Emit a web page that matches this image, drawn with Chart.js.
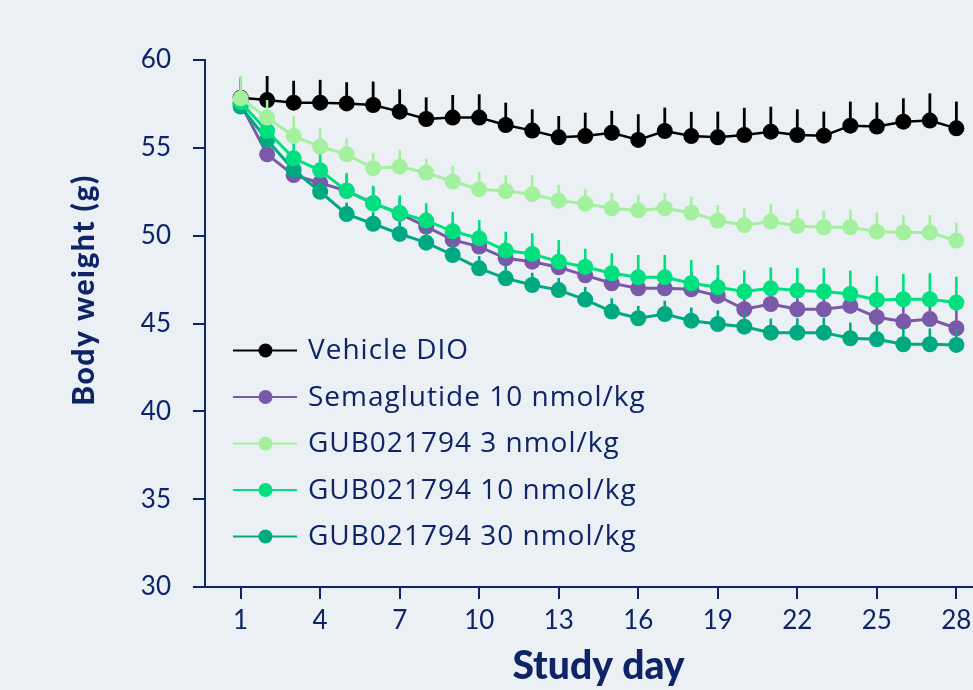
<!DOCTYPE html>
<html><head><meta charset="utf-8">
<script src="https://cdn.jsdelivr.net/npm/chart.js@4.4.1/dist/chart.umd.min.js"></script>
<style>
html,body{margin:0;padding:0;background:#ebf0f5;overflow:hidden;}
#wrap{width:973px;height:690px;overflow:hidden;position:relative;background:#ebf0f5;}
canvas{display:block;}
</style></head><body>
<div id="wrap"><canvas id="c" width="1000" height="690"></canvas></div>
<script>
const days = [1,2,3,4,5,6,7,8,9,10,11,12,13,14,15,16,17,18,19,20,21,22,23,24,25,26,27,28];
const xTicks = [1,4,7,10,13,16,19,22,25,28];
const yTicks = [30,35,40,45,50,55,60];
const seriesNames = ['Vehicle DIO','Semaglutide 10 nmol/kg','GUB021794 3 nmol/kg','GUB021794 10 nmol/kg','GUB021794 30 nmol/kg'];

const vehicle = [57.85,57.72,57.57,57.57,57.53,57.44,57.06,56.64,56.72,56.72,56.30,55.98,55.60,55.67,55.86,55.45,55.96,55.67,55.60,55.73,55.92,55.73,55.69,56.26,56.21,56.49,56.55,56.11];
const vehicleSem = [1.1,1.37,1.25,1.30,1.20,1.33,1.27,1.23,1.29,1.33,1.27,1.21,1.21,1.33,1.25,1.46,1.33,1.38,1.46,1.55,1.42,1.46,1.37,1.37,1.37,1.33,1.55,1.52];

const sema = [57.5,54.63,53.45,53.0,52.55,51.85,51.25,50.52,49.76,49.38,48.71,48.52,48.2,47.74,47.29,47.0,47.0,46.95,46.57,45.81,46.11,45.81,45.81,46.0,45.36,45.11,45.25,44.73];
const semaSem = [0.5,0.8,0.8,0.9,0.9,0.9,0.9,0.9,1.0,1.0,1.0,1.0,1.0,1.0,1.0,1.0,1.0,1.0,1.05,1.05,1.05,1.1,1.1,1.1,1.1,1.1,1.1,1.1];

const gub3 = [57.82,56.72,55.67,55.07,54.63,53.84,53.93,53.59,53.08,52.64,52.54,52.36,51.99,51.82,51.56,51.44,51.56,51.31,50.86,50.6,50.80,50.55,50.48,50.48,50.23,50.18,50.18,49.72];
const gub3Sem = [1.27,1.0,1.14,1.04,0.91,0.85,0.95,0.8,0.89,1.0,0.91,1.1,0.89,0.85,0.85,0.9,0.85,0.91,0.89,0.95,1.0,0.95,0.93,1.0,1.08,1.0,1.0,1.02];

const gub10 = [57.6,55.96,54.4,53.72,52.55,51.82,51.29,50.86,50.25,49.85,49.15,48.96,48.52,48.22,47.86,47.63,47.63,47.29,47.06,46.82,47.0,46.88,46.82,46.68,46.34,46.38,46.38,46.19];
const gub10Sem = [0.8,1.0,1.14,0.95,1.02,1.02,1.0,0.99,1.1,1.04,1.08,1.18,1.23,1.04,1.14,1.27,1.27,1.33,1.27,1.2,1.2,1.27,1.33,1.33,1.37,1.44,1.48,1.48];

const gub30 = [57.35,55.45,53.74,52.5,51.23,50.68,50.1,49.6,48.9,48.14,47.57,47.19,46.9,46.36,45.68,45.3,45.54,45.16,44.97,44.82,44.48,44.48,44.48,44.16,44.1,43.82,43.82,43.78];
const gub30Sem = [0.5,0.6,0.6,0.6,0.65,0.65,0.7,0.7,0.7,0.7,0.7,0.7,0.7,0.72,0.76,0.7,0.76,0.75,0.78,0.8,0.8,0.82,0.85,0.89,0.91,0.9,0.9,0.9];

const NAVY = '#0e2466';
const colors = ['#000000','#7a5aa8','#a3f09e','#00e07f','#00aa80'];
const seriesValues = [vehicle, sema, gub3, gub10, gub30];
const seriesSem = [vehicleSem, semaSem, gub3Sem, gub10Sem, gub30Sem];
const drawOrder = [5,4,1,2,3];
const lineWidths = [2.5,3,3,3,3];

const datasets = seriesValues.map((vals, i) => ({
  label: seriesNames[i],
  data: days.map((d, k) => ({x: d, y: vals[k]})),
  borderColor: colors[i],
  backgroundColor: colors[i],
  pointBackgroundColor: colors[i],
  pointBorderWidth: 0,
  pointRadius: 8,
  borderWidth: lineWidths[i],
  order: drawOrder[i],
  tension: 0,
  clip: false
}));

const errorBars = {
  id: 'errorBars',
  beforeDatasetDraw(chart, args) {
    const ctx = chart.ctx;
    const sem = seriesSem[args.index];
    const vals = seriesValues[args.index];
    const ys = chart.scales.y;
    ctx.save();
    ctx.strokeStyle = colors[args.index];
    ctx.lineWidth = args.index === 0 ? 2.8 : 2.6;
    args.meta.data.forEach((pt, k) => {
      const top = ys.getPixelForValue(vals[k] + sem[k]);
      ctx.beginPath();
      ctx.moveTo(pt.x, pt.y);
      ctx.lineTo(pt.x, top);
      ctx.stroke();
    });
    ctx.restore();
  }
};

const extras = {
  id: 'extras',
  afterDraw(chart) {
    const ctx = chart.ctx;
    const ca = chart.chartArea;
    ctx.save();
    ctx.setTransform(1, 0, 0, 1, 0, 0);
    // legend
    const y0 = ca.top + 290.5, dy = 46.5;
    seriesNames.forEach((name, i) => {
      const y = y0 + i * dy;
      ctx.strokeStyle = colors[i];
      ctx.lineWidth = 2;
      ctx.beginPath();
      ctx.moveTo(ca.left + 28, y);
      ctx.lineTo(ca.left + 92, y);
      ctx.stroke();
      ctx.fillStyle = colors[i];
      ctx.beginPath();
      ctx.arc(ca.left + 60.5, y, 7, 0, Math.PI * 2);
      ctx.fill();
      ctx.fillStyle = NAVY;
      ctx.font = '28px "Open Sans"';
      ctx.letterSpacing = '1px';
      ctx.textBaseline = 'middle';
      ctx.textAlign = 'left';
      ctx.fillText(name, ca.left + 103, y + 1);
    });
    // y title
    ctx.letterSpacing = '1.5px';
    ctx.setTransform(1, 0, 0, 1, 84, 290);
    ctx.rotate(-Math.PI / 2);
    ctx.fillStyle = NAVY;
    ctx.font = '900 30px Lato';
    ctx.textAlign = 'center';
    ctx.textBaseline = 'middle';
    ctx.fillText('Body weight (g)', 0, 0);
    ctx.restore();
  }
};

new Chart(document.getElementById('c'), {
  type: 'line',
  data: { datasets },
  options: {
    responsive: false,
    devicePixelRatio: 1,
    animation: false,
    events: [],
    layout: { padding: { top: 60, left: 0, right: 0, bottom: 0 } },
    plugins: { legend: { display: false }, tooltip: { enabled: false } },
    scales: {
      x: {
        type: 'linear', min: -0.344, max: 29.344,
        afterBuildTicks: s => { s.ticks = xTicks.map(v => ({ value: v })); },
        afterFit: s => { s.height = 103; },
        grid: { display: true, drawOnChartArea: false, drawTicks: true, tickLength: 12, color: NAVY, lineWidth: 2 },
        border: { display: true, color: NAVY, width: 2 },
        ticks: { color: NAVY, font: { family: 'Lato', size: 26 }, padding: 6, maxRotation: 0, autoSkip: false },
        title: { display: true, text: 'Study day', color: NAVY, font: { family: 'Lato', size: 39, weight: '900' }, padding: { top: 0, bottom: 0 } }
      },
      y: {
        type: 'linear', min: 30, max: 60,
        afterBuildTicks: s => { s.ticks = yTicks.map(v => ({ value: v })); },
        afterFit: s => { s.width = 205; },
        grid: { display: true, drawOnChartArea: false, drawTicks: true, tickLength: 12, color: NAVY, lineWidth: 2 },
        border: { display: true, color: NAVY, width: 2 },
        ticks: { color: NAVY, font: { family: 'Lato', size: 26 }, padding: 22 }
      }
    }
  },
  plugins: [errorBars, extras]
});
</script>
</body></html>
